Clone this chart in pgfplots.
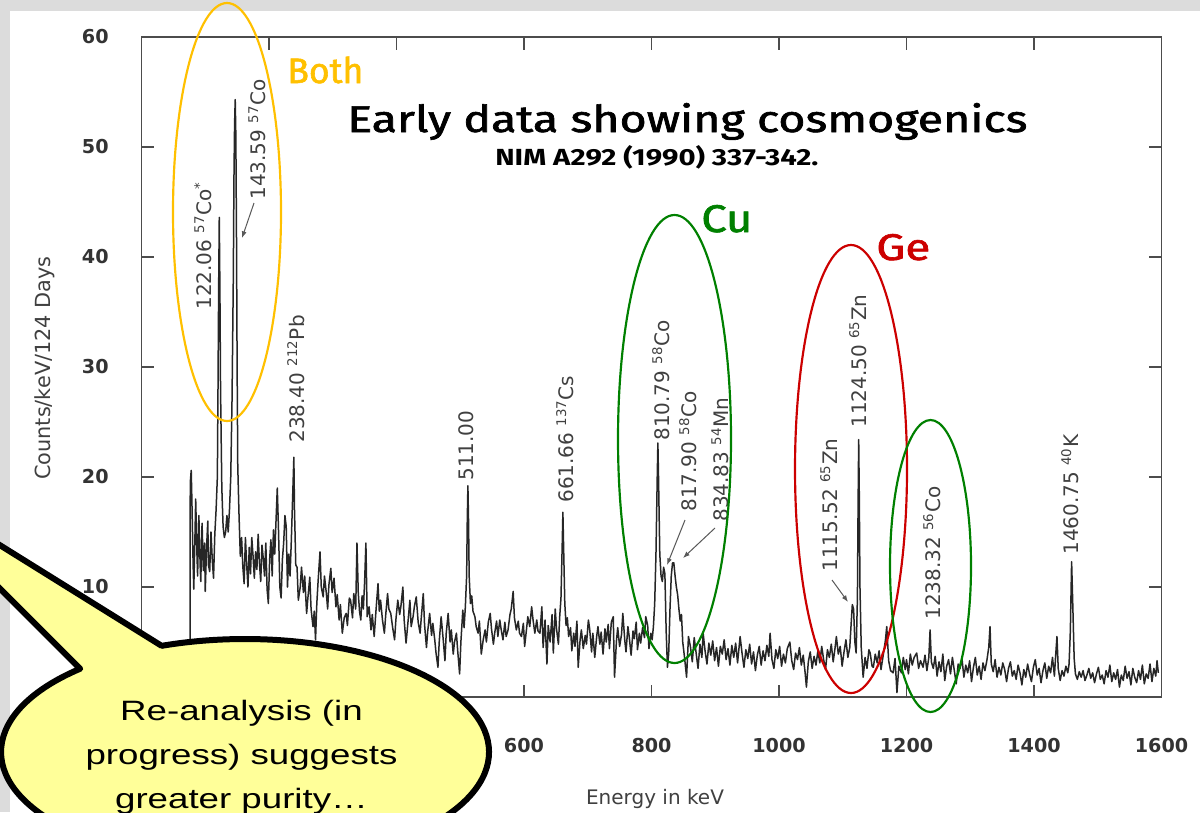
\documentclass[border=0pt]{standalone}
\usepackage{fontspec}
\setmainfont{DejaVu Sans}
\newfontfamily\fira{Fira Sans}
\newfontfamily\firasb[FakeBold=1.6]{Fira Sans}
\newfontfamily\arial{Liberation Sans}
\usepackage{graphicx}
\usepackage{pgfplots}
\pgfplotsset{compat=1.18}
\usetikzlibrary{arrows.meta}
\definecolor{bggray}{HTML}{DCDCDC}
\definecolor{bothgold}{HTML}{FFC000}
\definecolor{cugreen}{HTML}{008000}
\definecolor{gered}{HTML}{CC0000}
\definecolor{bubble}{HTML}{FFFF99}
\newcommand{\iso}[2]{\textsuperscript{#1}#2}
\begin{document}
\begin{tikzpicture}
\useasboundingbox (0,0) rectangle (720pt,-487.2pt);
\begin{scope}
\clip (0,0) rectangle (720pt,-487.2pt);
\begin{scope}[x=0.6pt,y=-0.6pt]
  \fill[bggray] (0,0) rectangle (1200,812);
  \fill[white] (10,11) rectangle (1200,812);
\end{scope}
\begin{axis}[at={(84.9pt,-418.2pt)}, anchor=south west,
  scale only axis, width=612pt, height=396pt,
  xmin=0, xmax=1600, ymin=0, ymax=60,
  xtick={0,200,...,1600}, ytick={0,10,...,60},
  % labels 0, 200, 400 (and y = 0) sit under the speech bubble
  xticklabels={,,,600,800,1000,1200,1400,1600},
  yticklabels={,10,20,30,40,50,60},
  tick align=inside, major tick length=7.5pt,
  axis line style={black!70, line width=1pt},
  tick style={black!70, line width=1pt},
  ticklabel style={font=\fontsize{11.5}{12}\selectfont\bfseries, text=black!80},
  yticklabel style={anchor=east, inner sep=0pt, xshift=-19.5pt},
  xticklabel style={anchor=north, inner sep=0pt, yshift=-24.6pt}]
\addplot[black!85, line width=0.9pt, line join=round, mark=none] coordinates {
(76,0) (76.5,19.5) (78,20.6) (79,18) (81,12) (82,9.8) (84,15) (85,18) (87,13) (88,11) (90,16.5) (92,12) (93,10.5) (95,15.8) (97,11.5) (99,14) (100,9.6) (102,13.5) (104,16) (105,12) (107,11.4) (109,15) (111,12.5) (113,10.8) (115,14.8) (117,17)
(119,20) (120,28) (121,37) (122,43.6) (123,37) (124,28) (126,19) (128,15.5) (130,14.5) (132,15) (134,16.5) (136,15) (138,17) (140,20) (142,27) (144,38) (145,47) (146,52) (147,54.3) (148,51) (149,42) (150,30) (151,21) (153,16.5) (155,12.8)
(157,14.5) (159,11.8) (161,10.3) (163,14.5) (165,12) (167,10) (169,13.6) (171,11.2) (173,14.5) (175,12.8) (177,10.8) (179,13.2) (181,11.6) (183,14.8) (185,12.2) (187,10.5) (189,13.8) (191,12.6) (193,11) (195,14) (197,9.8) (199,8.5) (201,12.5) (203,14.3) (205,11) (207,15.2) (209,13) (211,16) (213,19) (215,15) (217,10) (219,9) (221,12.5) (223,14) (225,16.5) (227,15.5) (229,10) (231,13) (233,11) (235,14.2) (237,18) (239,21.8) (240,17) (242,12)
(244,11.8) (246,8.8) (249,10) (251,11.8) (254,9.5) (256,11) (259,7.6) (261,9) (264,10.9) (266,8) (269,6.4) (271,7.8) (273,5.2) (275,8.5) (277,10.5) (280,13.2) (282,10) (285,9.1) (287,11) (290,9.4) (292,8) (294,10.2) (297,11.7) (299,9.5) (302,10.8) (305,8.2) (307,9.3) (310,7) (312,8.4) (315,5.8) (318,7.2) (321,7.6) (323,6.5) (326,9) (328,8.8) (331,7.2) (333,9.4) (336,8) (338,14) (340,9.5) (342,7.8) (344,7) (346,9.2) (348,8) (350,10.5) (352,14) (354,7.3) (357,8.2) (360,6.1) (362,7.5) (365,5.5) (368,8) (371,10.3) (373,7.8) (375,8.8) (378,7) (381,5.8) (383,7.4) (386,9.4) (388,8) (391,7.6) (394,6.3) (397,5.2) (399,7) (402,8.8) (405,7.5) (407,8.3) (410,10) (412,7) (415,4.9) (418,6.8) (421,8.8) (423,6.4) (426,7.3) (428,8.2) (431,9.1) (434,6.8) (437,5.8) (439,7.3) (442,9.4) (444,6.6) (447,4.5) (449,6) (452,7.6) (455,5.6) (457,6.7) (460,5.2) (462,4) (465,2.7) (467,5) (470,7.3) (473,5.4) (476,3.3) (478,5.8) (481,7.6) (484,5) (486,6.1) (489,3.9) (491,5) (494,5.8) (496,4.2) (499,2.1) (501,5) (504,7.9) (506,6.3) (508,8.2) (510,11) (511,16) (512,19.2) (513,16) (514,11) (516,8.5) (518,9.2)
(520,7.8) (523,7.3) (525,6.4) (528,5.8) (530,6.9) (533,3.9) (536,5.2) (539,6.1) (541,5) (544,6.8) (547,7.6) (549,6.2) (552,4.8) (554,5.8) (557,6.9) (559,5.5) (562,7) (564,6.2) (567,5.2) (570,6.8) (572,5.5) (575,6.1) (578,7.5) (580,8) (583,9.6) (585,7.2) (588,6.1) (591,6.9) (593,5.8) (596,5.5) (599,6.7) (601,4.6) (604,6.2) (606,7.3) (609,6.4) (612,8.2) (614,7.1) (617,5.8) (620,7) (622,6) (625,5.8) (628,8.2) (630,4.5) (633,7) (636,3) (638,6.5) (641,5) (644,7.5) (646,4) (649,8) (651,6.2) (654,4.8) (656,7.3) (658,9) (660,14) (661,16.8) (662,14) (664,8.5) (666,6.5) (668,7.2)
(670,5.5) (673,6.3) (675,4.2) (678,5.8) (680,4.6) (683,6.9) (685,2.7) (688,5.2) (690,6.1) (693,4.4) (696,5.6) (698,4.8) (701,7) (703,6.2) (706,4.1) (708,5.8) (711,3.6) (714,5.5) (716,6.4) (719,4.8) (721,5.9) (724,3.9) (727,6.2) (729,5) (732,6.6) (734,4.4) (737,6.8) (740,7.3) (742,1.8) (745,5.1) (747,6.3) (750,4.6) (753,5.7) (755,7.6) (758,5.2) (760,4.1) (763,6.4) (765,5.5) (768,3.8) (771,6) (773,5.3) (776,6.8) (778,4.3) (781,5.8) (783,4.9) (786,6.3) (789,5.4) (791,7.3) (794,6.5) (796,4.4) (799,5.8) (801,5.2)
(803,6.4) (805,8.5) (807,13) (809,20) (810,23.1) (811,20) (813,13) (815,11) (817,10.5) (819,11.8) (821,11.2) (823,6) (825,2.7) (827,4) (829,8) (831,11) (833,12.2) (835,12.2) (837,11) (839,10) (841,9.3) (843,8) (845,6.9) (847,7.5) (849,5) (852,3.5) (855,1.8) (858,5.5)
(861,4.6) (864,3.2) (867,5.4) (870,4) (873,2.6) (876,4.8) (879,3.6) (881,5.8) (884,4.2) (887,3) (890,4.9) (893,3.8) (896,5.1) (899,3.3) (902,4.5) (905,2.8) (908,4.6) (911,3.9) (914,5.2) (917,3.4) (920,4.4) (923,2.9) (926,4.7) (929,3.6) (932,4.9) (935,3.1) (939,5.5) (942,4) (945,2.7) (948,4.3) (951,3.5) (954,4.8) (957,3) (960,4.1) (963,2.4) (966,3.8) (969,4.6) (972,2.9) (975,4.2) (978,3.3) (981,4.7) (984,3.7) (986,5.8) (989,3.4) (992,2.6) (995,4.3) (998,3.5) (1001,4.6) (1004,2.8) (1007,3.9) (1010,3.1) (1013,4.4) (1017,5) (1020,3.3) (1023,2.5) (1026,4) (1029,3.4) (1032,4.5) (1035,2.9) (1038,3.8) (1041,2.2) (1043,0.9) (1046,3.2) (1049,4.1) (1052,2.6) (1055,3.7) (1058,2.9) (1061,4.2) (1064,3.1) (1067,4.6) (1070,3.4) (1073,2.5) (1076,4.3) (1079,3.6) (1082,4.8) (1085,3.2) (1088,4.5) (1090,5.5) (1093,3.9) (1096,4.6) (1099,2.8) (1102,4.1) (1105,5.2) (1108,3.6) (1111,4.5) (1113,6.5) (1115,8.4) (1117,8) (1119,5) (1121,4) (1123,9) (1124,17) (1125,23.4) (1126,18) (1127,10) (1129,4.5) (1132,1.8)
(1135,3.6) (1138,2.6) (1141,4.3) (1143,4) (1146,2.8) (1148,2.7) (1151,3.9) (1154,3.1) (1157,4.2) (1160,2.5) (1164,4) (1167,5.2) (1169,6.4) (1172,3.3) (1175,2.4) (1179,2.2) (1182,3.5) (1185,0.4) (1188,2.8) (1192,2.2) (1195,3.6) (1198,2.5) (1200,3.4) (1203,2.1) (1206,3.9) (1209,2.9) (1212,3.6) (1216,4) (1219,2.6) (1222,3.3) (1226,2.7) (1229,3.8) (1232,2.4) (1235,3.6) (1237,6.1) (1239,3.2)
(1242,2.6) (1245,3.7) (1248,1.9) (1251,3.2) (1254,2.3) (1257,3.9) (1260,1.5) (1263,2.8) (1266,3.4) (1269,2.1) (1272,3.6) (1275,2.4) (1278,1.2) (1281,3) (1284,2.6) (1287,3.5) (1290,1.8) (1293,2.9) (1296,2.2) (1299,3.3) (1302,1.4) (1305,2.7) (1308,3.6) (1311,2) (1314,2.8) (1317,1.6) (1320,3.1) (1323,2.4) (1326,3.3) (1329,4.5) (1331,6.4) (1333,3) (1336,2.3) (1339,3.4) (1342,1.8) (1345,2.7) (1348,2) (1351,3.1) (1354,2.5) (1357,1.4) (1360,2.6) (1363,3.2) (1366,1.9) (1369,2.4) (1372,1.6) (1375,2.9) (1378,2.2) (1381,1.1) (1384,2.5) (1387,1.8) (1390,3) (1393,2.1) (1396,1.4) (1399,2.7) (1402,3.4) (1405,2) (1408,2.6) (1411,1.3) (1414,2.4) (1417,3.1) (1420,1.7) (1423,2.8) (1426,2.2) (1429,3.6) (1432,1.9) (1434,3.8) (1436,5.5) (1438,2.6) (1441,1.5) (1444,2.4) (1447,1.9) (1450,2.8) (1453,2.2) (1455,3) (1457,6) (1459,12.3) (1461,8) (1463,3.5) (1465,2.1)
(1468,1.6) (1471,2.3) (1474,1.8) (1477,2.4) (1480,1.5) (1483,2) (1486,2.6) (1489,1.7) (1492,2.2) (1495,1.3) (1498,2.1) (1501,2.7) (1504,1.6) (1507,2) (1510,1.2) (1513,2.4) (1516,1.8) (1519,2.9) (1522,1.4) (1525,2.2) (1528,1.6) (1531,2.5) (1534,0.9) (1537,2) (1540,1.5) (1543,2.8) (1546,1.7) (1549,2.3) (1552,1.1) (1555,2.6) (1558,1.8) (1561,1.3) (1564,2.4) (1567,1.6) (1570,2.9) (1573,1.2) (1576,2.1) (1579,1.7) (1582,3) (1585,1.4) (1588,2.6) (1591,1.9) (1593,3.3) (1595,2.2)
};
\end{axis}
\begin{scope}[x=0.6pt,y=-0.6pt]
  % axis titles
  \node[rotate=90, text=black!75, font=\fontsize{12.5}{13}\selectfont] at (45,368) {Counts/keV/124 Days};
  \node[text=black!75, font=\fontsize{12}{13}\selectfont] at (655,799) {Energy in keV};
  % peak labels
  \begin{scope}[every node/.style={rotate=90, anchor=west, inner sep=0pt, text=black!75, font=\fontsize{12}{13}\selectfont}]
    \node at (203,310) {122.06 \iso{57}{Co}\textsuperscript{*}};
    \node at (257,200) {143.59 \iso{57}{Co}};
    \node at (296,443) {238.40 \iso{212}{Pb}};
    \node at (466,481) {511.00};
    \node at (565,503) {661.66 \iso{137}{Cs}};
    \node at (661,441) {810.79 \iso{58}{Co}};
    \node at (688,512) {817.90 \iso{58}{Co}};
    \node at (720,522) {834.83 \iso{54}{Mn}};
    \node at (829,572) {1115.52 \iso{65}{Zn}};
    \node at (858,428) {1124.50 \iso{65}{Zn}};
    \node at (932,620) {1238.32 \iso{56}{Co}};
    \node at (1070,555) {1460.75 \iso{40}{K}};
  \end{scope}
  \begin{scope}[black!65, line width=0.6pt, -{Latex[length=4pt,width=3pt]}]
    \draw (254,203) -- (242,238);
    \draw (685,520) -- (667,565);
    \draw (715,528) -- (683,558);
    \draw (832,580) -- (848,602);
  \end{scope}
  % ellipses
  \draw[bothgold, line width=1.3pt] (227,212) ellipse [x radius=54, y radius=209];
  \draw[cugreen, line width=1.3pt] (674.5,439) ellipse [x radius=56.5, y radius=224];
  \draw[gered, line width=1.3pt] (851,469) ellipse [x radius=56, y radius=224];
  \draw[cugreen, line width=1.3pt] (930.5,566) ellipse [x radius=40.5, y radius=146];
  % overlay texts
  \node[anchor=base west, inner sep=0pt] at (347,132) {\resizebox{408pt}{17.4pt}{\firasb Early data showing cosmogenics}};
  \node[anchor=base west, inner sep=0pt] at (495,165) {\resizebox{193.8pt}{12pt}{\fira\bfseries NIM A292 (1990) 337-342.}};
  \node[anchor=base west, inner sep=0pt, text=bothgold] at (287,83) {\resizebox{45.6pt}{15.9pt}{\firasb Both}};
  \node[anchor=base west, inner sep=0pt, text=cugreen] at (701,232) {\resizebox{30.6pt}{16.2pt}{\firasb Cu}};
  \node[anchor=base west, inner sep=0pt, text=gered] at (876,260) {\resizebox{32.4pt}{15.6pt}{\firasb Ge}};
  % speech bubble
  \filldraw[fill=bubble, draw=black, line width=3.6pt, line join=round]
    (161.6,645.8) -- (-116,473) -- (80.2,668.7)
    arc[start angle=227.5, end angle=-110, x radius=244, y radius=113] -- cycle;
  \begin{scope}[every node/.style={anchor=base, inner sep=0pt, font=\arial\fontsize{16.8}{18}\selectfont}]
    \node at (241.5,720) {\scalebox{1.31}[1]{Re-analysis (in}};
    \node at (241.5,764) {\scalebox{1.31}[1]{progress) suggests}};
    \node at (241.5,808) {\scalebox{1.31}[1]{greater purity…}};
  \end{scope}
\end{scope}
\end{scope}
\end{tikzpicture}
\end{document}
